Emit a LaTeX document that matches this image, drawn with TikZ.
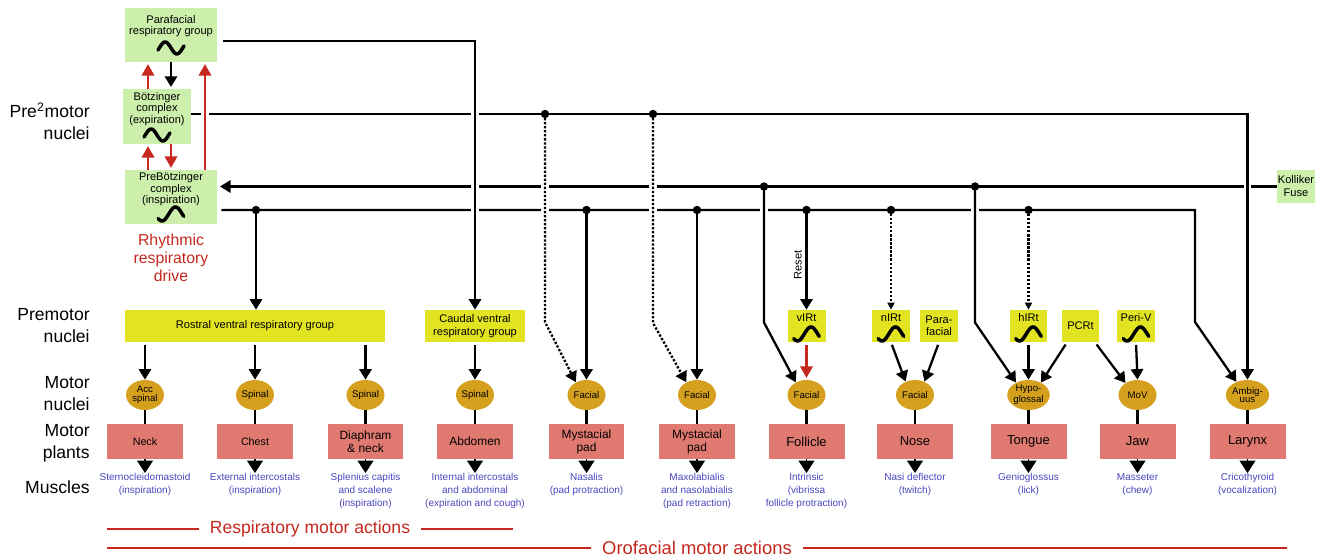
\documentclass[tikz,border=0pt]{standalone}
\usepackage{fontspec}
\setmainfont{Liberation Sans}
\usepackage{tikz}
\usetikzlibrary{shapes.geometric, arrows.meta, positioning, calc}
\definecolor{grnfill}{RGB}{204, 240, 172}
\definecolor{ylwfill}{RGB}{226, 228, 34}
\definecolor{nucfill}{RGB}{212, 160, 30}
\definecolor{plantfill}{RGB}{224, 122, 112}
\definecolor{muscblue}{RGB}{72, 70, 190}
\definecolor{drivered}{RGB}{196, 40, 30}

\begin{document}
\begin{tikzpicture}[x=0.02cm, y=-0.02cm,
  grn/.style={fill=grnfill, inner sep=0pt},
  ylw/.style={fill=ylwfill, inner sep=0pt, minimum height=0.64cm, align=center, font=\fontsize{6.3}{7}\selectfont},
  boxtxt/.style={inner sep=0pt, align=center, font=\fontsize{6.3}{6.6}\selectfont},
  nuc/.style={ellipse, fill=nucfill, minimum width=0.76cm, minimum height=0.6cm, inner sep=0pt, align=center, font=\fontsize{5.5}{5}\selectfont},
  plant/.style={fill=plantfill, minimum width=1.52cm, minimum height=0.7cm, inner sep=0pt, align=center, font=\fontsize{7.4}{7.4}\selectfont},
  musc/.style={anchor=north, inner sep=0pt, align=center, text=muscblue, font=\fontsize{5.7}{7.4}\selectfont},
  rowlbl/.style={anchor=east, align=right, inner sep=0pt, font=\fontsize{10}{12.5}\selectfont},
  act/.style={text=drivered, inner xsep=0.21cm, inner ysep=0pt},
  actline/.style={drivered, line width=1.2pt},
  wire/.style={line width=1.3pt},
  arr/.style={wire, -{Triangle[width=7pt,length=6pt]}},
  sarr/.style={wire, -{Triangle[width=4pt,length=4pt]}},
  redarr/.style={wire, drivered, -{Triangle[width=7pt,length=6.5pt]}, shorten >=1pt},
  tipdown/.style={line width=0.6pt, -{Triangle[width=9pt,length=7pt]}},
  dots/.style={dash pattern=on 1.3pt off 1pt},
  hop/.style={preaction={draw=white, line width=4.5pt, solid, -}},
  tilde/.pic={\draw[line width=2pt, line cap=round] plot[smooth, domain=-20:380, samples=25] ({(\x-180)*0.065}, {-6*sin(\x)});},
  sbend/.pic={\draw[line width=2pt, line cap=round] plot[smooth, domain=-140:200, samples=25] ({(\x-30)*0.075}, {-7*sin(\x)});}
]
\useasboundingbox (0,0) rectangle (1322,557);

% Row labels
\node[rowlbl] (lpre2) at (90,121) {Pre\textsuperscript{2}motor\\nuclei};
\node[rowlbl] (lpre) at (90,326) {Premotor\\nuclei};
\node[rowlbl] (lmot) at (90,394) {Motor\\nuclei};
\node[rowlbl] (lpla) at (90,443) {Motor\\plants};
\node[rowlbl] (lmus) at (90,487) {Muscles};

% Pre2motor oscillators
\node[grn, minimum width=1.84cm, minimum height=1.08cm] (prf) at (171,35) {};
\node[boxtxt] (prft) at (171,26) {Parafacial\\respiratory group};
\pic at (171,48) {tilde};
\node[grn, minimum width=1.36cm, minimum height=1.1cm] (bot) at (157,116.5) {};
\node[boxtxt] (bott) at (157,109) {Bötzinger\\complex\\(expiration)};
\pic at (157,135) {tilde};
\node[grn, minimum width=1.84cm, minimum height=1.08cm] (pbc) at (171,197) {};
\node[boxtxt] (pbct) at (171,189.5) {PreBötzinger\\complex\\(inspiration)};
\pic at (171,214) {sbend};
\node[grn, boxtxt, minimum width=0.76cm, minimum height=0.66cm, font=\fontsize{6.3}{7.4}\selectfont] (kf) at (1296,186.5) {Kolliker\\Fuse};
\node[text=drivered, align=center, inner sep=0pt, font=\fontsize{9}{10.2}\selectfont] (rrd) at (171,258) {Rhythmic\\respiratory\\drive};

% Premotor nuclei
\node[ylw, minimum width=5.2cm] (rvrg) at (255,326) {Rostral ventral respiratory group};
\node[ylw, minimum width=2.0cm, font=\fontsize{6.3}{7.8}\selectfont] (cvrg) at (475,326) {Caudal ventral\\respiratory group};
\node[ylw, minimum width=0.76cm] (virt) at (806.5,326) {};
\node[boxtxt] (virtt) at (806.5,318) {vIRt};
\pic at (806.5,334) {sbend};
\node[ylw, minimum width=0.76cm] (nirt) at (891,326) {};
\node[boxtxt] (nirtt) at (891,318) {nIRt};
\pic at (891,334) {sbend};
\node[ylw, minimum width=0.76cm, font=\fontsize{6.3}{6.6}\selectfont] (pf2) at (939,326) {Para-\\facial};
\node[ylw, minimum width=0.74cm] (hirt) at (1028.5,326) {};
\node[boxtxt] (hirtt) at (1028.5,318) {hIRt};
\pic at (1028.5,334) {sbend};
\node[ylw, minimum width=0.74cm] (pcrt) at (1080.5,326) {PCRt};
\node[ylw, minimum width=0.76cm] (periv) at (1136,326) {};
\node[boxtxt] (perivt) at (1136,318) {Peri-V};
\pic at (1136,334) {sbend};

% Motor nuclei
\node[nuc] (nacc) at (145,395) {Acc\\spinal};
\node[nuc] (nsp1) at (255,395) {Spinal};
\node[nuc] (nsp2) at (365.5,395) {Spinal};
\node[nuc] (nsp3) at (475,395) {Spinal};
\node[nuc] (nfac1) at (586.5,395) {Facial};
\node[nuc] (nfac2) at (697,395) {Facial};
\node[nuc] (nfac3) at (806.5,395) {Facial};
\node[nuc] (nfac4) at (915,395) {Facial};
\node[nuc] (nhyp) at (1028.5,395) {Hypo-\\glossal};
\node[nuc] (nmov) at (1137.5,395) {MoV};
\node[nuc] (namb) at (1247.5,395) {Ambig-\\uus};

% Motor plants
\node[plant, font=\fontsize{6.1}{7}\selectfont] (pneck) at (145,441.5) {Neck};
\node[plant, font=\fontsize{6.1}{7}\selectfont] (pchest) at (255,441.5) {Chest};
\node[plant, font=\fontsize{6.8}{7.4}\selectfont] (pdia) at (365.5,441.5) {Diaphram\\\& neck};
\node[plant, font=\fontsize{6.8}{7.4}\selectfont] (pabd) at (475,441.5) {Abdomen};
\node[plant, font=\fontsize{6.8}{7.4}\selectfont] (ppad1) at (586.5,441.5) {Mystacial\\pad};
\node[plant, font=\fontsize{6.8}{7.4}\selectfont] (ppad2) at (697,441.5) {Mystacial\\pad};
\node[plant] (pfol) at (806.5,441.5) {Follicle};
\node[plant] (pnose) at (915,441.5) {Nose};
\node[plant] (ptong) at (1028.5,441.5) {Tongue};
\node[plant] (pjaw) at (1137.5,441.5) {Jaw};
\node[plant] (plar) at (1247.5,441.5) {Larynx};

% Muscles
\node[musc] (mneck) at (145,473) {Sternocleidomastoid\\(inspiration)};
\node[musc] (mchest) at (255,473) {External intercostals\\(inspiration)};
\node[musc] (mdia) at (365.5,473) {Splenius capitis\\and scalene\\(inspiration)};
\node[musc] (mabd) at (475,473) {Internal intercostals\\and abdominal\\(expiration and cough)};
\node[musc] (mpad1) at (586.5,473) {Nasalis\\(pad protraction)};
\node[musc] (mpad2) at (697,473) {Maxolabialis\\and nasolabialis\\(pad retraction)};
\node[musc] (mfol) at (806.5,473) {Intrinsic\\(vibrissa\\follicle protraction)};
\node[musc] (mnose) at (915,473) {Nasi deflector\\(twitch)};
\node[musc] (mtong) at (1028.5,473) {Genioglossus\\(lick)};
\node[musc] (mjaw) at (1137.5,473) {Masseter\\(chew)};
\node[musc] (mlar) at (1247.5,473) {Cricothyroid\\(vocalization)};

% Bus junctions
\coordinate (bA) at (545,114);
\coordinate (bB) at (653,114);
\coordinate (kA) at (764,186.5);
\coordinate (kB) at (975,186.5);
\coordinate (oA) at (256,210);
\coordinate (oB) at (586.5,210);
\coordinate (oC) at (697,210);
\coordinate (oD) at (806.5,210);
\coordinate (oE) at (891,210);
\coordinate (oF) at (1028.5,210);
\coordinate (oG) at (1195,210);

% Buses
\draw[arr, shorten >=1.5pt] (kf.west) -- (kf.west -| pbc.east);
\draw[arr] ([shift={(0.08cm,-0.26cm)}]pbc.east) -- (oG) -- ++(0,112) -- (namb.130);
\draw[arr, hop] ([yshift=0.05cm]bot.east) -| (namb.north);
\draw[arr, hop] ([shift={(0.12cm,-0.12cm)}]prf.east) -| (cvrg.north);
\draw[arr, dots, hop] (bA) -- ++(0,208) -- (nfac1.130);
\draw[arr, dots, hop] (bB) -- ++(0,209) -- (nfac2.130);
\draw[arr, hop] (kA) -- ++(0,136) -- (nfac3.130);
\draw[arr, hop] (kB) -- ++(0,136) -- (nhyp.135);
\draw[arr] (oA) -- (oA |- rvrg.north);
\draw[arr] (oB) -- (nfac1.north);
\draw[arr] (oC) -- (nfac2.north);
\draw[arr] (oD) -- (virt.north) node[pos=0.55, rotate=90, anchor=south, inner sep=2pt, font=\fontsize{6.3}{7}\selectfont] (reset) {Reset};
\draw[sarr, dots] (oE) -- (nirt.north);
\draw[sarr, dots] (oF) -- (hirt.north);
\fill (bA) circle (2.4pt) (bB) circle (2.4pt) (kA) circle (2.4pt) (kB) circle (2.4pt)
  (oA) circle (2.4pt) (oB) circle (2.4pt) (oC) circle (2.4pt) (oD) circle (2.4pt)
  (oE) circle (2.4pt) (oF) circle (2.4pt);

% Rhythm generator loops
\draw[arr, shorten >=1pt] (prf.south) -- (prf.south |- bot.north);
\draw[redarr] ([xshift=-0.18cm]bot.north) -- ([xshift=-0.18cm]bot.north |- prf.south);
\draw[redarr] ([xshift=-0.18cm]bot.south |- pbc.north) -- ([xshift=-0.18cm]bot.south);
\draw[redarr] ([xshift=0.28cm]bot.south) -- ([xshift=0.28cm]bot.south |- pbc.north);
\draw[redarr, hop] ([xshift=0.68cm]pbc.north) -- ([xshift=0.68cm]pbc.north |- prf.south);

% Premotor to motor nuclei
\draw[arr, shorten <=1.5pt] (rvrg.south -| nacc) -- (nacc.north);
\draw[arr, shorten <=1.5pt] (rvrg.south -| nsp1) -- (nsp1.north);
\draw[arr, shorten <=1.5pt] (rvrg.south -| nsp2) -- (nsp2.north);
\draw[arr, shorten <=1.5pt] (cvrg.south) -- (nsp3.north);
\draw[redarr, shorten <=1.5pt] (virt.south) -- (nfac3.north);
\draw[arr, shorten <=1.5pt] (nirt.south) -- (nfac4.125);
\draw[arr, shorten <=1.5pt] (pf2.south) -- (nfac4.55);
\draw[arr, shorten <=1.5pt] (hirt.south) -- (nhyp.north);
\draw[arr, shorten <=1.5pt] ([xshift=-0.27cm]pcrt.south) -- (nhyp.45);
\draw[arr, shorten <=1.5pt] ([xshift=0.29cm]pcrt.south) -- (nmov.135);
\draw[arr, shorten <=1.5pt] (periv.south) -- (nmov.north);

% Motor nuclei to plants to muscles
\draw[wire] (nacc.south) -- (pneck.north);   \draw[tipdown] (pneck.south) -- (mneck.north);
\draw[wire] (nsp1.south) -- (pchest.north);  \draw[tipdown] (pchest.south) -- (mchest.north);
\draw[wire] (nsp2.south) -- (pdia.north);    \draw[tipdown] (pdia.south) -- (mdia.north);
\draw[wire] (nsp3.south) -- (pabd.north);    \draw[tipdown] (pabd.south) -- (mabd.north);
\draw[wire] (nfac1.south) -- (ppad1.north);  \draw[tipdown] (ppad1.south) -- (mpad1.north);
\draw[wire] (nfac2.south) -- (ppad2.north);  \draw[tipdown] (ppad2.south) -- (mpad2.north);
\draw[wire] (nfac3.south) -- (pfol.north);   \draw[tipdown] (pfol.south) -- (mfol.north);
\draw[wire] (nfac4.south) -- (pnose.north);  \draw[tipdown] (pnose.south) -- (mnose.north);
\draw[wire] (nhyp.south) -- (ptong.north);   \draw[tipdown] (ptong.south) -- (mtong.north);
\draw[wire] (nmov.south) -- (pjaw.north);    \draw[tipdown] (pjaw.south) -- (mjaw.north);
\draw[wire] (namb.south) -- (plar.north);    \draw[tipdown] (plar.south) -- (mlar.north);

% Motor actions
\node[act, font=\fontsize{10}{12}\selectfont] (resp) at (310,529) {Respiratory motor actions};
\node[act, font=\fontsize{10.5}{12}\selectfont] (oro) at (697,548) {Orofacial motor actions};
\coordinate (respL) at (107,529);
\coordinate (respR) at (513,529);
\coordinate (oroL) at (107,548);
\coordinate (oroR) at (1287,548);
\draw[actline] (respL) -- (resp.west) (resp.east) -- (respR);
\draw[actline] (oroL) -- (oro.west) (oro.east) -- (oroR);
\end{tikzpicture}
\end{document}
